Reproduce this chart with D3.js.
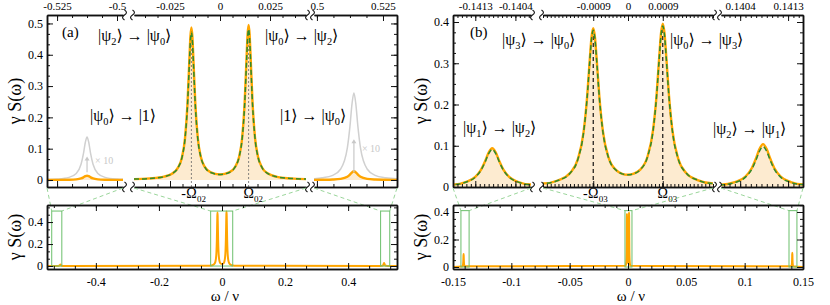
<!DOCTYPE html>
<html>
<head>
<meta charset="utf-8">
<script src="https://cdn.jsdelivr.net/npm/d3@7"></script>
<style>
body{margin:0;background:#fff}
</style>
</head>
<body>
<script>
// ---------- panel (a) : spectrum ----------
const wA_left  = [-0.555, -0.5292, -0.525, -0.52, -0.517, -0.515, -0.514, -0.5132, -0.5125, -0.5118, -0.511, -0.51, -0.508, -0.505, -0.5, -0.4975];
const sA_left  = [0, 0.00018, 0.00031, 0.00083, 0.00207, 0.00502, 0.00844, 0.01206, 0.0137, 0.01206, 0.00844, 0.00502, 0.00207, 0.00083, 0.00031, 0.00022];
const wA_mid   = [-0.043, -0.035, -0.028, -0.024, -0.021, -0.019, -0.0175, -0.0163, -0.0153, -0.0148, -0.0143, -0.0138, -0.0133, -0.0123, -0.0111, -0.0096, -0.0076, -0.0046, 0,
                  0.0046, 0.0076, 0.0096, 0.0111, 0.0123, 0.0133, 0.0138, 0.0143, 0.0148, 0.0153, 0.0163, 0.0175, 0.019, 0.021, 0.024, 0.028, 0.035, 0.043];
const sA_mid   = [0.0028, 0.0050, 0.0107, 0.0201, 0.0394, 0.0729, 0.1331, 0.2384, 0.386, 0.457, 0.487, 0.457, 0.386, 0.239, 0.1341, 0.0744, 0.0417, 0.0240, 0.0177,
                  0.0242, 0.0421, 0.0752, 0.1357, 0.243, 0.394, 0.465, 0.495, 0.465, 0.394, 0.243, 0.1356, 0.0743, 0.0401, 0.0205, 0.0109, 0.0051, 0.0029];
const gA_mid   = [0.0028, 0.0050, 0.0107, 0.0200, 0.0392, 0.0722, 0.1310, 0.2330, 0.374, 0.443, 0.472, 0.443, 0.374, 0.234, 0.1320, 0.0738, 0.0414, 0.0239, 0.0176,
                  0.0241, 0.0418, 0.0745, 0.1335, 0.238, 0.382, 0.452, 0.482, 0.452, 0.382, 0.238, 0.1335, 0.0737, 0.0398, 0.0204, 0.0109, 0.0051, 0.0029];
const wA_right = [0.4989, 0.502, 0.506, 0.509, 0.5115, 0.5125, 0.5133, 0.514, 0.5147, 0.5155, 0.5165, 0.519, 0.522, 0.526, 0.5303, 0.555];
const sA_right = [0.00043, 0.00068, 0.00149, 0.00351, 0.01019, 0.01713, 0.02447, 0.0278, 0.02447, 0.01713, 0.01019, 0.00351, 0.00149, 0.00068, 0.00037, 0];

// ---------- panel (b) ----------
const wB_left  = [-0.15, -0.1418, -0.1415, -0.1413, -0.14117, -0.14108, -0.141, -0.14092, -0.14084, -0.14076, -0.14067, -0.14054, -0.14035, -0.14005];
const sB_left  = [0, 0.00576, 0.0123, 0.0244, 0.0421, 0.0624, 0.0835, 0.094, 0.0835, 0.0624, 0.0421, 0.0244, 0.0127, 0.0059];
const gB_left  = [0, 0.0057, 0.0121, 0.0239, 0.0411, 0.0607, 0.081, 0.0911, 0.081, 0.0607, 0.0411, 0.0239, 0.0125, 0.0058];
const wB_mid   = [-0.0022, -0.0018, -0.0015, -0.0013, -0.00115, -0.00106, -0.00099, -0.000945, -0.0009, -0.000855, -0.00081, -0.00074, -0.00065, -0.0005, -0.0003, -0.00015, 0,
                  0.00015, 0.0003, 0.0005, 0.00065, 0.00074, 0.00081, 0.000855, 0.0009, 0.000945, 0.00099, 0.00106, 0.00115, 0.0013, 0.0015, 0.0018, 0.0022];
const sB_mid   = [0.0085, 0.0164, 0.0337, 0.0668, 0.1331, 0.2162, 0.3083, 0.3622, 0.3849, 0.3626, 0.3091, 0.2176, 0.1353, 0.0705, 0.0401, 0.0320, 0.0297,
                  0.0322, 0.0408, 0.0722, 0.1389, 0.2235, 0.3178, 0.3729, 0.3958, 0.3725, 0.3170, 0.2222, 0.1367, 0.0685, 0.0345, 0.0168, 0.0087];
const gB_mid   = [0.0085, 0.0163, 0.0335, 0.0663, 0.1318, 0.2138, 0.3045, 0.3577, 0.3800, 0.3581, 0.3053, 0.2152, 0.1340, 0.0700, 0.0399, 0.0319, 0.0296,
                  0.0321, 0.0405, 0.0716, 0.1374, 0.2208, 0.3137, 0.3680, 0.3905, 0.3676, 0.3129, 0.2195, 0.1352, 0.0680, 0.0343, 0.0167, 0.0087];
const wB_right = [0.14004, 0.1403, 0.1405, 0.14062, 0.1407, 0.14076, 0.14083, 0.1409, 0.14096, 0.14104, 0.14116, 0.14135, 0.14158, 0.15];
const sB_right = [0.00554, 0.01156, 0.0254, 0.0461, 0.0702, 0.0913, 0.104, 0.0913, 0.0702, 0.0461, 0.0254, 0.01197, 0.00612, 0];
const gB_right = [0.00522, 0.0109, 0.0239, 0.0435, 0.0662, 0.086, 0.098, 0.086, 0.0662, 0.0435, 0.0239, 0.0113, 0.00576, 0];

// tick labels
const topTicksA = [[-0.525, -0.5], [-0.025, 0, 0.025], [0.5, 0.525]];
const topTicksB = [[-0.1413, -0.1404], [-0.0009, 0, 0.0009], [0.1404, 0.1413]];
const yTicksA = [0, 0.1, 0.2, 0.3, 0.4, 0.5];
const yTicksB = [0, 0.1, 0.2, 0.3, 0.4];
const botXTicksA = [-0.4, -0.2, 0, 0.2, 0.4];
const botXTicksB = [-0.15, -0.1, -0.05, 0, 0.05, 0.1, 0.15];
const botYTicks = [0, 0.2, 0.4];

// zoom windows marked in the lower panels, and the resonances
const boxA = [[-0.54, -0.508], [-0.036, 0.034], [0.503, 0.532]];
const boxB = [[-0.1432, -0.1362], [-0.0026, 0.0034], [0.138, 0.1448]];
const boxTopA = 0.5, boxTopB = 0.41;
const omegaA = [-0.0143, 0.0143];
const omegaB = [-0.0009, 0.0009];

const FONT = 'Liberation Serif, Times New Roman, DejaVu Serif, serif';
const ORANGE = '#ffa500', FILL = '#fdebd0', GREEN = '#2e8b2e', GREY = '#d0d0d0', BOX = '#6cbf6c', LINK = '#8fd08f';

const pts = (w, s) => w.map((v, i) => [v, s[i]]);

const svg = d3.select('body').append('svg').attr('width', 830).attr('height', 305)
  .attr('font-family', FONT);
const defs = svg.append('defs');

function minorTicks(dom, step) {
  const lo = Math.min(dom[0], dom[1]), hi = Math.max(dom[0], dom[1]);
  const k0 = Math.ceil(lo / step - 1e-6), k1 = Math.floor(hi / step + 1e-6);
  return d3.range(k0, k1 + 1).map(k => +(k * step).toFixed(9));
}

function addAxis(parent, axisFn, scale, pos, majors, minors, labels, fs, pad) {
  const a = parent.append('g').attr('transform', pos)
    .call(axisFn(scale).tickValues(minors).tickSize(-3).tickSizeOuter(0).tickFormat(() => ''));
  const b = parent.append('g').attr('transform', pos)
    .call(axisFn(scale).tickValues(majors).tickSize(-6).tickSizeOuter(0).tickPadding(pad)
      .tickFormat(labels ? d => String(d) : () => ''));
  [a, b].forEach(g => {
    g.attr('font-family', FONT).attr('font-size', fs);
    g.selectAll('.domain').attr('stroke', '#111').attr('stroke-width', 1.5);
    g.selectAll('.tick line').attr('stroke', '#111');
    g.selectAll('.tick text').attr('fill', '#000').attr('font-family', FONT);
  });
}

function squiggle(x, y) {
  svg.append('path')
    .attr('d', `M${x},${y - 5} c2.6,1.6 2.6,3.4 0,5 c-2.6,1.6 -2.6,3.4 0,5`)
    .attr('fill', 'none').attr('stroke', '#111').attr('stroke-width', 1.1);
}

function txt(x, y, s, fs) {
  return svg.append('text').attr('x', x).attr('y', y).attr('font-size', fs).attr('font-family', FONT).text(s);
}

// text with subscripts, parts: strings or {sub:'..'}
function rich(x, y, parts, fs) {
  const t = svg.append('text').attr('x', x).attr('y', y).attr('font-size', fs).attr('font-family', FONT);
  let down = false;
  parts.forEach(p => {
    if (typeof p === 'string') {
      t.append('tspan').attr('dy', down ? -4 : 0).text(p); down = false;
    } else {
      t.append('tspan').attr('dy', 4).attr('font-size', fs * 0.65).text(p.sub); down = true;
    }
  });
  return t;
}

function drawPanel(P) {
  // ---------- upper, broken axis ----------
  const y = d3.scaleLinear().domain(P.yDom).range([P.y1, P.y0]);
  P.segs.forEach((s, i) => {
    const x = d3.scaleLinear().domain(s.dom).range(s.px);
    const id = `clip-${P.name}-${i}`;
    defs.append('clipPath').attr('id', id).append('rect')
      .attr('x', s.px[0]).attr('y', P.y0).attr('width', s.px[1] - s.px[0]).attr('height', P.y1 - P.y0);
    const g = svg.append('g').attr('clip-path', `url(#${id})`);
    const line = d3.line().x(d => x(d[0])).y(d => y(d[1])).curve(d3.curveMonotoneX);
    const area = d3.area().x(d => x(d[0])).y0(y(0)).y1(d => y(d[1])).curve(d3.curveMonotoneX);

    g.append('path').datum(P.orange).attr('d', area).attr('fill', FILL);
    P.grey.forEach(gd => g.append('path').datum(gd).attr('d', line)
      .attr('fill', 'none').attr('stroke', GREY).attr('stroke-width', 1.5));
    P.marks.forEach(m => {
      const top = P.orange.find(d => d[0] === m)[1];
      g.append('line').attr('x1', x(m)).attr('x2', x(m)).attr('y1', y(P.yDom[0])).attr('y2', y(top))
        .attr('stroke', P.markColor).attr('stroke-width', P.markWidth).attr('stroke-dasharray', P.markDash);
    });
    g.append('path').datum(P.orange).attr('d', line)
      .attr('fill', 'none').attr('stroke', ORANGE).attr('stroke-width', 2.4);
    g.append('path').datum(P.green).attr('d', line)
      .attr('fill', 'none').attr('stroke', GREEN).attr('stroke-width', 1.5).attr('stroke-dasharray', '5,3');

    const mn = minorTicks(s.dom, P.topMinor[i]);
    addAxis(svg, d3.axisTop, x, `translate(0,${P.y0})`, P.topTicks[i], mn, true, 11, 5);
    addAxis(svg, d3.axisBottom, x, `translate(0,${P.y1})`, P.topTicks[i], mn, false, 11, 0);
    s.x = x;
  });
  const L = P.segs[0].px[0], R = P.segs[P.segs.length - 1].px[1];
  const ym = minorTicks(P.yDom, P.yMinor);
  addAxis(svg, d3.axisLeft, y, `translate(${L},0)`, P.yTicks, ym, true, 12, 4);
  addAxis(svg, d3.axisRight, y, `translate(${R},0)`, P.yTicks, ym, false, 12, 0);
  for (let i = 0; i < P.segs.length - 1; i++) {
    const a = P.segs[i].px[1] + 1.5, b = P.segs[i + 1].px[0] - 1.5;
    [P.y0, P.y1].forEach(yy => { squiggle(a, yy); squiggle(b, yy); });
  }
  // Ω labels under the axis
  const xm = P.segs[1].x;
  P.marks.forEach((m, k) => {
    const cx = xm(m);
    txt(cx, P.y1 + 11, 'Ω', 14).attr('text-anchor', 'middle');
    if (k === 0) txt(cx - 5.5, P.y1 + 11, '-', 14).attr('text-anchor', 'end');
    txt(cx + 5.5, P.y1 + 15, P.omegaSub, 9);
  });

  // ---------- lower, full axis ----------
  const xb = d3.scaleLinear().domain(P.bxDom).range([L, R]);
  const yb = d3.scaleLinear().domain(P.byDom).range([P.by1, P.by0]);
  P.segs.forEach((s, i) => {
    [[s.px[0], P.box[i][0]], [s.px[1], P.box[i][1]]].forEach(([px, w]) => {
      svg.append('line').attr('x1', px).attr('y1', P.y1 + 1).attr('x2', xb(w)).attr('y2', yb(P.boxTop))
        .attr('stroke', LINK).attr('stroke-width', 0.9).attr('stroke-dasharray', '4,3');
    });
  });
  const idb = `clipb-${P.name}`;
  defs.append('clipPath').attr('id', idb).append('rect')
    .attr('x', L).attr('y', P.by0).attr('width', R - L).attr('height', P.by1 - P.by0);
  const gb = svg.append('g').attr('clip-path', `url(#${idb})`);
  gb.append('path').datum(P.orange)
    .attr('d', d3.line().x(d => xb(d[0])).y(d => yb(d[1])).curve(d3.curveMonotoneX))
    .attr('fill', 'none').attr('stroke', ORANGE).attr('stroke-width', 2);
  gb.selectAll('rect.box').data(P.box).enter().append('rect')
    .attr('x', d => xb(d[0])).attr('width', d => xb(d[1]) - xb(d[0]))
    .attr('y', yb(P.boxTop)).attr('height', yb(0) - yb(P.boxTop))
    .attr('fill', 'none').attr('stroke', BOX).attr('stroke-width', 1);
  const bxm = minorTicks(P.bxDom, P.bxMinor), bym = minorTicks(P.byDom, P.byMinor);
  addAxis(svg, d3.axisBottom, xb, `translate(0,${P.by1})`, P.bxTicks, bxm, true, 12, 8);
  addAxis(svg, d3.axisTop, xb, `translate(0,${P.by0})`, P.bxTicks, bxm, false, 12, 0);
  addAxis(svg, d3.axisLeft, yb, `translate(${L},0)`, botYTicks, bym, true, 12, 4);
  addAxis(svg, d3.axisRight, yb, `translate(${R},0)`, botYTicks, bym, false, 12, 0);

  // axis titles
  [(P.y0 + P.y1) / 2, (P.by0 + P.by1) / 2].forEach(cy => {
    svg.append('text').attr('transform', `translate(${L - 32},${cy}) rotate(-90)`).attr('font-family', FONT)
      .attr('text-anchor', 'middle').attr('dy', '0.35em').attr('font-size', 18).text('γ S(ω)');
  });
  txt(xb(0) + 3, 301, 'ω / ν', 15).attr('text-anchor', 'middle');
}

const panelA = {
  name: 'a',
  segs: [{px: [47, 123], dom: [-0.5292, -0.4975]}, {px: [134, 306], dom: [-0.043, 0.043]}, {px: [314, 397], dom: [0.4989, 0.5303]}],
  y0: 15, y1: 187, yDom: [-0.0224, 0.527], yTicks: yTicksA, yMinor: 0.1 / 3,
  topTicks: topTicksA, topMinor: [0.00625, 0.00625, 0.00625],
  orange: pts(wA_left.concat(wA_mid, wA_right), sA_left.concat(sA_mid, sA_right)),
  green: pts(wA_mid, gA_mid),
  // grey trace: the side peaks magnified ×10, as labelled in the figure
  grey: [pts(wA_left, sA_left.map(v => v * 10)), pts(wA_right, sA_right.map(v => v * 10))],
  marks: omegaA, markColor: '#666', markWidth: 0.8, markDash: '2,2', omegaSub: '02',
  bxDom: [-0.555, 0.555], by0: 205, by1: 269, byDom: [-0.027, 0.555],
  bxTicks: botXTicksA, bxMinor: 0.2 / 3, byMinor: 0.2 / 3,
  box: boxA, boxTop: boxTopA
};

const panelB = {
  name: 'b',
  segs: [{px: [453, 531], dom: [-0.1418, -0.14005]}, {px: [543, 713], dom: [-0.0022, 0.0022]}, {px: [721, 803], dom: [0.14004, 0.14158]}],
  y0: 15, y1: 187, yDom: [0, 0.417], yTicks: yTicksB, yMinor: 0.025,
  topTicks: topTicksB, topMinor: [0.0001, 0.0001, 0.0001],
  orange: pts(wB_left.concat(wB_mid, wB_right), sB_left.concat(sB_mid, sB_right)),
  green: pts(wB_left.concat(wB_mid, wB_right), gB_left.concat(gB_mid, gB_right)),
  grey: [],
  marks: omegaB, markColor: '#000', markWidth: 1.1, markDash: '4,3', omegaSub: '03',
  bxDom: [-0.15, 0.15], by0: 205, by1: 269, byDom: [-0.0145, 0.451],
  bxTicks: botXTicksB, bxMinor: 0.01, byMinor: 0.05,
  box: boxB, boxTop: boxTopB
};

drawPanel(panelA);
drawPanel(panelB);

// ×10 markers in (a)
const xAL = d3.scaleLinear().domain(panelA.segs[0].dom).range(panelA.segs[0].px);
const xAR = d3.scaleLinear().domain(panelA.segs[2].dom).range(panelA.segs[2].px);
const yA = d3.scaleLinear().domain(panelA.yDom).range([panelA.y1, panelA.y0]);
[[xAL, -0.5125, 0.025, 0.075, 0.05], [xAR, 0.514, 0.025, 0.13, 0.09]].forEach(([xs, w, a, b, t]) => {
  const x = xs(w);
  svg.append('line').attr('x1', x).attr('x2', x).attr('y1', yA(a)).attr('y2', yA(b) + 3)
    .attr('stroke', '#c8c8c8').attr('stroke-width', 1.2);
  svg.append('path').attr('d', `M${x - 2.5},${yA(b) + 4} L${x},${yA(b)} L${x + 2.5},${yA(b) + 4} Z`).attr('fill', '#c8c8c8');
  txt(x + 8, yA(t), '× 10', 10).attr('fill', '#c8c8c8');
});

// panel letters and transition labels
txt(62, 37, '(a)', 15);
txt(470, 37, '(b)', 15);
rich(98, 41, ['|ψ', {sub: '2'}, '⟩ → |ψ', {sub: '0'}, '⟩'], 16);
rich(265, 41, ['|ψ', {sub: '0'}, '⟩ → |ψ', {sub: '2'}, '⟩'], 16);
rich(90, 121, ['|ψ', {sub: '0'}, '⟩ → |1⟩'], 16);
rich(280, 121, ['|1⟩ → |ψ', {sub: '0'}, '⟩'], 16);
rich(502, 45, ['|ψ', {sub: '3'}, '⟩ → |ψ', {sub: '0'}, '⟩'], 16);
rich(670, 45, ['|ψ', {sub: '0'}, '⟩ → |ψ', {sub: '3'}, '⟩'], 16);
rich(463, 133, ['|ψ', {sub: '1'}, '⟩ → |ψ', {sub: '2'}, '⟩'], 16);
rich(713, 134, ['|ψ', {sub: '2'}, '⟩ → |ψ', {sub: '1'}, '⟩'], 16);
</script>
</body>
</html>
